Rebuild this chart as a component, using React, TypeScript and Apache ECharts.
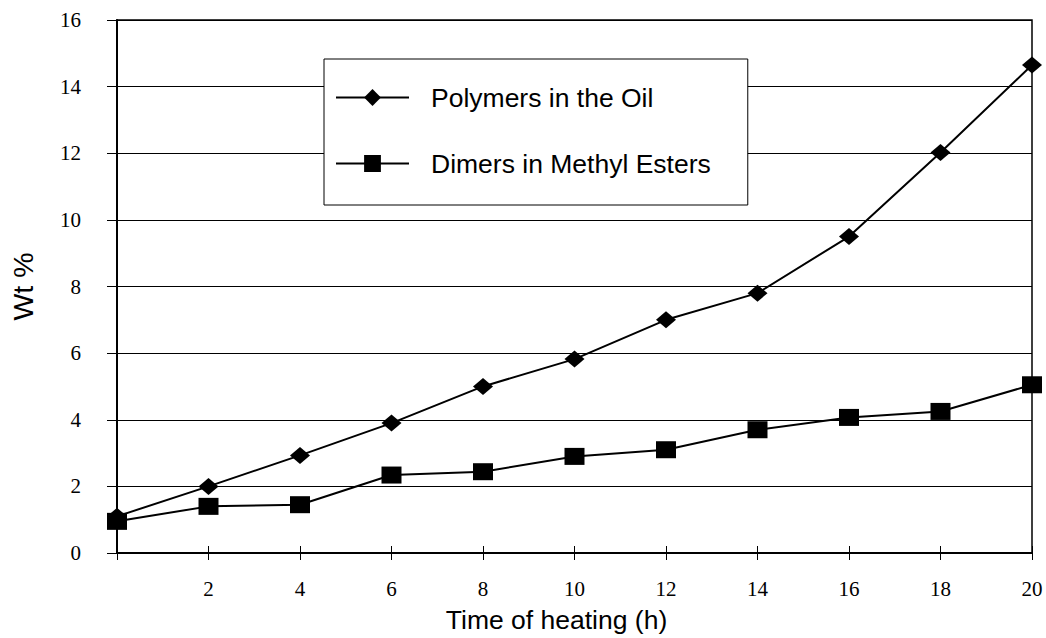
import React, { useEffect, useRef } from "react";
import * as echarts from "echarts";

const hours = [0, 2, 4, 6, 8, 10, 12, 14, 16, 18, 20];
const polymers = [1.1, 2.0, 2.93, 3.9, 5.0, 5.82, 7.0, 7.8, 9.5, 12.02, 14.65];
const dimers = [0.95, 1.4, 1.45, 2.34, 2.44, 2.9, 3.1, 3.7, 4.07, 4.25, 5.05];
const seriesNames = ["Polymers in the Oil", "Dimers in Methyl Esters"];
const xTitle = "Time of heating (h)";
const yTitle = "Wt %";

export default function App() {
  const ref = useRef<HTMLDivElement>(null);
  useEffect(() => {
    if (!ref.current) return;
    const chart = echarts.init(ref.current, undefined, { renderer: "svg" });
    const serif = "'Liberation Serif', 'Times New Roman', serif";
    const sans = "'Liberation Sans', Arial, sans-serif";
    chart.setOption({
      animation: false,
      backgroundColor: "#fff",
      grid: {
        left: 116,
        right: 14,
        top: 20,
        bottom: 85,
        show: true,
        borderColor: "#000",
        borderWidth: 1.5,
        backgroundColor: "transparent",
      },
      legend: {
        orient: "vertical",
        left: 324,
        top: 59,
        padding: [25, 37, 28, 11],
        backgroundColor: "#fff",
        borderColor: "#000",
        borderWidth: 1,
        borderRadius: 0,
        itemWidth: 73,
        itemHeight: 21,
        itemGap: 39,
        textStyle: {
          fontFamily: sans,
          fontSize: 26.5,
          color: "#000",
          lineHeight: 26,
          padding: [0, 0, 0, 17],
        },
        data: seriesNames,
      },
      xAxis: [
        {
          type: "value",
          min: 0,
          max: 20,
          interval: 2,
          name: xTitle,
          nameLocation: "middle",
          nameGap: 53,
          nameTextStyle: {
            fontFamily: sans,
            fontSize: 26.5,
            color: "#000",
            padding: [0, 36, 0, 0],
          },
          axisLine: { show: true, lineStyle: { color: "#000", width: 2 } },
          axisTick: { show: true, length: 7, lineStyle: { color: "#000", width: 1 } },
          axisLabel: {
            fontFamily: serif,
            fontSize: 21,
            color: "#000",
            margin: 25,
            formatter: (v: number) => (v === 0 ? "" : String(v)),
          },
          splitLine: { show: false },
        },
        {
          type: "value",
          min: 0,
          max: 20,
          interval: 2,
          position: "bottom",
          axisLine: { show: false },
          axisTick: { show: true, inside: true, length: 7, lineStyle: { color: "#000", width: 1 } },
          axisLabel: { show: false },
          splitLine: { show: false },
        },
      ],
      yAxis: {
        type: "value",
        min: 0,
        max: 16,
        interval: 2,
        name: yTitle,
        nameLocation: "middle",
        nameRotate: 90,
        nameGap: 80,
        nameTextStyle: { fontFamily: sans, fontSize: 28.5, color: "#000" },
        axisLine: { show: true, lineStyle: { color: "#000", width: 2 } },
        axisTick: { show: true, length: 10, lineStyle: { color: "#000", width: 1 } },
        axisLabel: { fontFamily: serif, fontSize: 21, color: "#000", margin: 36 },
        splitLine: { show: true, lineStyle: { color: "#000", width: 1 } },
      },
      series: [
        {
          name: seriesNames[0],
          type: "line",
          data: hours.map((h, i) => [h, polymers[i]]),
          symbol: "diamond",
          symbolSize: [20, 17],
          color: "#000",
          lineStyle: { color: "#000", width: 2 },
          itemStyle: { color: "#000" },
          z: 3,
        },
        {
          name: seriesNames[1],
          type: "line",
          data: hours.map((h, i) => [h, dimers[i]]),
          symbol: "rect",
          symbolSize: [20, 17],
          color: "#000",
          lineStyle: { color: "#000", width: 2 },
          itemStyle: { color: "#000" },
          z: 3,
        },
      ],
    });
    return () => chart.dispose();
  }, []);
  return (
    <div
      ref={ref}
      style={{ position: "fixed", left: 0, top: 0, width: 1046, height: 638 }}
    />
  );
}
